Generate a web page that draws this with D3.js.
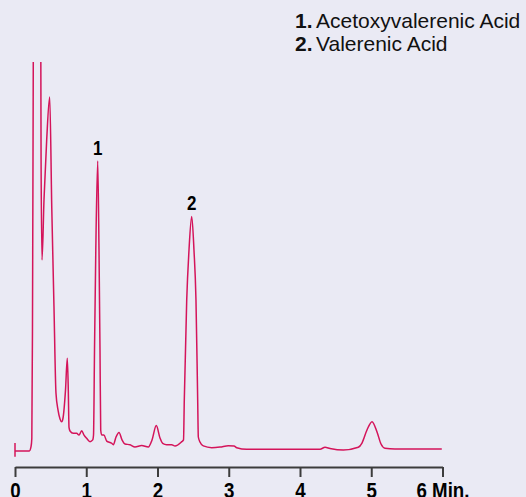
<!DOCTYPE html>
<html>
<head>
<meta charset="utf-8">
<script src="https://cdn.jsdelivr.net/npm/d3@7"></script>
<style>
  html, body { margin: 0; padding: 0; background: #eaeaf4; }
  svg { display: block; }
</style>
</head>
<body>
<div id="chart"></div>
<script>
// retention time (min) and detector response (arbitrary units)
const times = [
  0.000, 0.201, 0.225, 0.236, 0.245, 0.255, 0.262, 0.310, 0.358, 0.366, 0.379,
  0.407, 0.445, 0.487, 0.516, 0.547, 0.575, 0.604, 0.632, 0.655, 0.674, 0.709,
  0.734, 0.748, 0.758, 0.772, 0.818, 0.866, 0.898, 0.936, 0.969, 1.006, 1.053,
  1.091, 1.102, 1.116, 1.134, 1.161, 1.179, 1.193, 1.203, 1.217, 1.249, 1.287,
  1.357, 1.380, 1.418, 1.460, 1.502, 1.544, 1.614, 1.684, 1.778, 1.871, 1.923,
  1.983, 2.035, 2.073, 2.129, 2.199, 2.246, 2.340, 2.365, 2.376, 2.410, 2.442,
  2.480, 2.512, 2.540, 2.564, 2.573, 2.596, 2.643, 2.761, 2.877, 2.994, 3.074,
  3.112, 3.252, 4.281, 4.351, 4.421, 4.608, 4.818, 4.870, 4.940, 5.011, 5.081,
  5.137, 5.193, 5.333, 5.990
];
const signal = [
  -0.5, -0.5, 1.7, 6.0, 60, 180, 260, 330, 260, 150, 98,
  129, 160, 182, 125, 74, 29.4, 20.6, 16.0, 14.6, 16.5, 31,
  47.3, 31, 11.7, 9.8, 8.6, 8.6, 7.7, 9.9, 7.7, 6.0, 4.3,
  5.2, 7.7, 51.5, 103, 149, 103, 51.5, 10.3, 7.7, 7.7, 4.6,
  3.5, 2.7, 6.7, 9.0, 5.2, 3.1, 2.7, 1.5, 2.3, 1.5, 5.2,
  12.6, 6.2, 3.4, 2.7, 2.7, 2.1, 4.3, 5.2, 25.8, 77.3, 103,
  120.4, 103, 77.3, 25.8, 6.7, 4.1, 2.1, 1.2, 1.5, 2.2, 2.1,
  1.2, 0.4, 0.4, 1.4, 0.8, 0.0, 1.4, 3.6, 10.3, 14.6, 9.3,
  3.1, 0.9, 0.5, 0.5
];

const tickValues = [0, 1, 2, 3, 4, 5, 6];
const tickLabels = ['0', '1', '2', '3', '4', '5', '6 Min.'];

const peakLabels = ['1', '2'];
const peakTimes = [1.161, 2.480];
const peakHeights = [149, 120.4];

const legendNumbers = ['1.', '2.'];
const legendNames = ['Acetoxyvalerenic Acid', 'Valerenic Acid'];

const width = 526, height = 497;
const plotTop = 62, baseY = 450, axisY = 467;
const boldFont = '"Liberation Sans", Arial, sans-serif';
const narrow = 'scale(0.85,1)';

const svg = d3.select('#chart').append('svg')
  .attr('width', width)
  .attr('height', height);

svg.append('rect')
  .attr('width', width)
  .attr('height', height)
  .attr('fill', '#eaeaf4');

const x = d3.scaleLinear().domain([0, 6]).range([15, 442.5]);
const y = d3.scaleLinear().domain([0, 200]).range([baseY, plotTop]);

// clip the off-scale solvent front at the top
svg.append('clipPath')
  .attr('id', 'plot-clip')
  .append('rect')
    .attr('x', 0)
    .attr('y', plotTop)
    .attr('width', width)
    .attr('height', axisY - plotTop);

const points = times.map(function(t, i) { return [t, signal[i]]; });

const line = d3.line()
  .x(function(d) { return x(d[0]); })
  .y(function(d) { return y(d[1]); })
  .curve(d3.curveMonotoneX);

svg.append('path')
  .datum(points)
  .attr('clip-path', 'url(#plot-clip)')
  .attr('fill', 'none')
  .attr('stroke', '#d4145a')
  .attr('stroke-width', 1.5)
  .attr('stroke-linejoin', 'round')
  .attr('d', line);

// injection marker
svg.append('line')
  .attr('x1', x(0)).attr('x2', x(0))
  .attr('y1', y(-3.5)).attr('y2', y(3.6))
  .attr('stroke', '#d4145a')
  .attr('stroke-width', 1.5);

// time axis
const axis = svg.append('g')
  .attr('transform', 'translate(0,' + axisY + ')')
  .call(d3.axisBottom(x)
    .tickValues(tickValues)
    .tickFormat(function(d, i) { return tickLabels[i]; })
    .tickSize(10)
    .tickSizeOuter(0)
    .tickPadding(5));

axis.select('.domain').attr('stroke', '#3c3c3c').attr('stroke-width', 2);
axis.selectAll('.tick line').attr('stroke', '#3c3c3c').attr('stroke-width', 2);
axis.selectAll('.tick text')
  .attr('fill', '#000')
  .attr('transform', narrow)
  .style('font-family', boldFont)
  .style('font-weight', 'bold')
  .style('font-size', '22px');

// peak labels
svg.selectAll('.peak-label')
  .data(peakLabels)
  .enter()
  .append('text')
    .attr('class', 'peak-label')
    .attr('transform', function(d, i) {
      return 'translate(' + x(peakTimes[i]) + ',' + (y(peakHeights[i]) - 6) + ') ' + narrow;
    })
    .attr('text-anchor', 'middle')
    .style('font-family', boldFont)
    .style('font-weight', 'bold')
    .style('font-size', '20px')
    .attr('fill', '#000')
    .text(function(d) { return d; });

// legend
const legend = svg.append('g')
  .style('font-family', '"Liberation Sans", Arial, sans-serif')
  .style('font-size', '21px')
  .attr('fill', '#111');

legendNames.forEach(function(name, i) {
  const t = legend.append('text').attr('y', 27.5 + i * 23.5);
  t.append('tspan').attr('x', 295).style('font-weight', 'bold').text(legendNumbers[i]);
  t.append('tspan').attr('x', 316).text(name);
});
</script>
</body>
</html>
